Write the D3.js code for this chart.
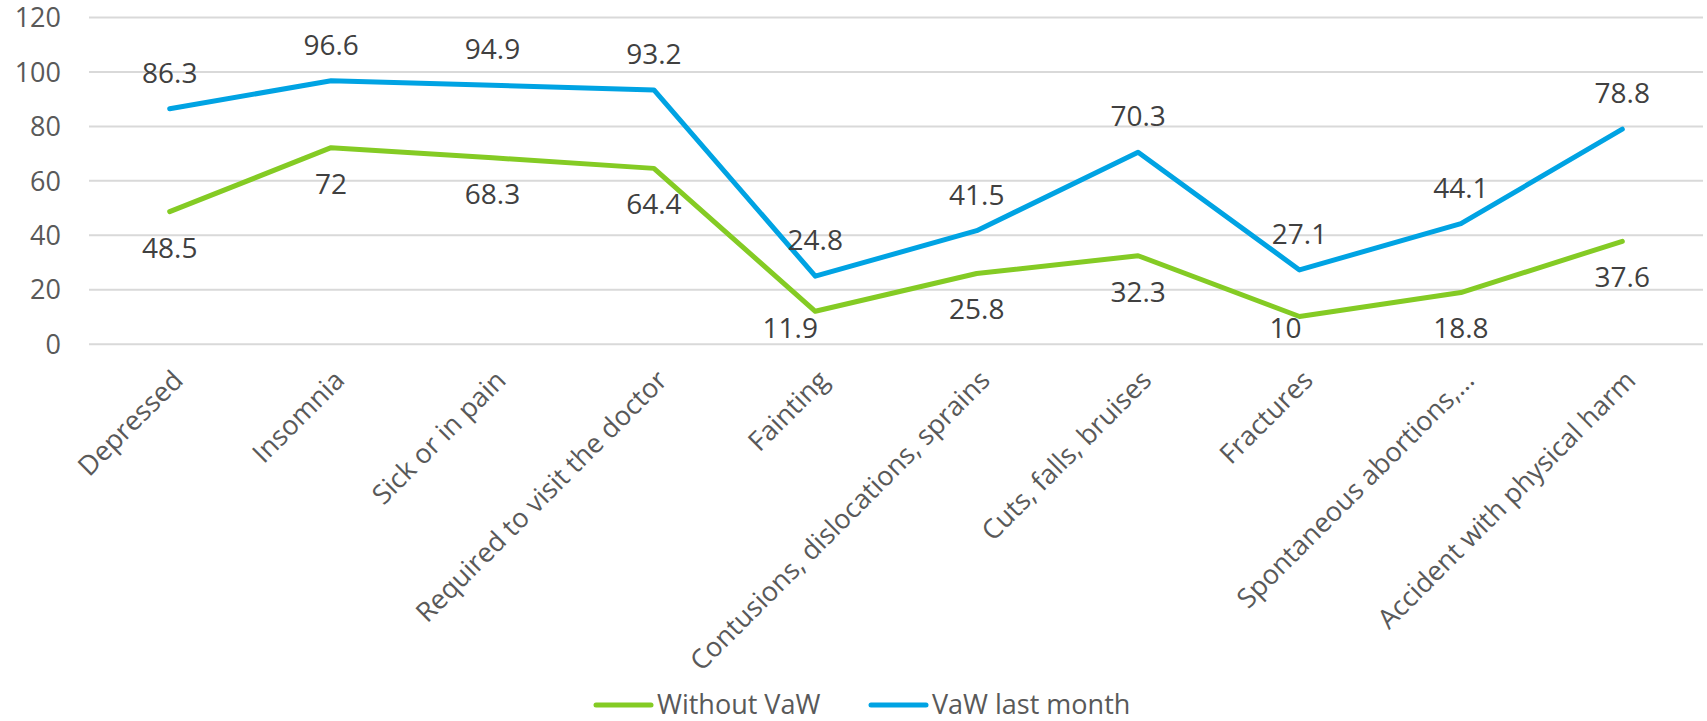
<!DOCTYPE html>
<html>
<head>
<meta charset="utf-8">
<script src="https://cdn.jsdelivr.net/npm/d3@7"></script>
<style>
  body { margin: 0; background: #fff; }
  text { font-family: "Open Sans", sans-serif; }
</style>
</head>
<body>
<svg id="chart" width="1707" height="721"></svg>
<script>
// categories along the x axis
const categories = ["Depressed", "Insomnia", "Sick or in pain", "Required to visit the doctor",
  "Fainting", "Contusions, dislocations, sprains", "Cuts, falls, bruises", "Fractures",
  "Spontaneous abortions,\u2026", "Accident with physical harm"];
// series values
const withoutVaw = [48.5, 72, 68.3, 64.4, 11.9, 25.8, 32.3, 10, 18.8, 37.6];
const vawLastMonth = [86.3, 96.6, 94.9, 93.2, 24.8, 41.5, 70.3, 27.1, 44.1, 78.8];
const yTicks = [0, 20, 40, 60, 80, 100, 120];

// little horizontal nudges of the labels that sit on the axis floor
const belowShift = [0, 0, 0, 0, -25, 0, 0, -14, 0, 0];

const series = [
  { name: "Without VaW", values: withoutVaw, color: "#84CB24", pos: "below" },
  { name: "VaW last month", values: vawLastMonth, color: "#00A3E3", pos: "above" }
];

const svg = d3.select("#chart");
const plotLeft = 89, plotRight = 1703, plotTop = 17, plotBottom = 343.7;

const x = d3.scalePoint().domain(categories).range([plotLeft, plotRight]).padding(0.5);
const y = d3.scaleLinear().domain([0, 120]).range([plotBottom, plotTop]);

// grid lines + y labels
const yAxis = svg.append("g").attr("transform", "translate(" + plotLeft + ",0)")
  .call(d3.axisLeft(y).tickValues(yTicks).tickSize(-(plotRight - plotLeft)).tickPadding(28));
yAxis.select(".domain").remove();
yAxis.selectAll(".tick line").attr("stroke", "#D9D9D9").attr("stroke-width", 2);
yAxis.selectAll(".tick text").attr("fill", "#595959").style("font-size", "27px")
  .attr("dy", "0.36em");

// category labels, rotated
svg.append("g").selectAll("text")
  .data(categories)
  .enter()
  .append("text")
  .text(d => d)
  .attr("text-anchor", "end")
  .attr("fill", "#595959")
  .style("font-size", "27px")
  .attr("transform", d => "translate(" + (x(d) + 15) + ",382) rotate(-45)");

// lines
const line = d3.line().x((v, i) => x(categories[i])).y(v => y(v));
series.forEach(s => {
  svg.append("path")
    .datum(s.values)
    .attr("d", line)
    .attr("fill", "none")
    .attr("stroke", s.color)
    .attr("stroke-width", 5)
    .attr("stroke-linejoin", "round")
    .attr("stroke-linecap", "round");
});

// data labels
series.forEach(s => {
  svg.append("g").selectAll("text")
    .data(s.values)
    .enter()
    .append("text")
    .text(d => d)
    .attr("text-anchor", "middle")
    .attr("fill", "#404040")
    .style("font-size", "28px")
    .attr("x", (d, i) => x(categories[i]) + (s.pos == "below" ? belowShift[i] : 0))
    .attr("y", d => s.pos == "above" ? y(d) - 26 : Math.min(y(d) + 46, 338));
});

// legend
const legend = svg.append("g").attr("transform", "translate(596,705)");
let lx = 0;
series.forEach(s => {
  legend.append("line")
    .attr("x1", lx).attr("x2", lx + 55).attr("y1", 0).attr("y2", 0)
    .attr("stroke", s.color).attr("stroke-width", 5).attr("stroke-linecap", "round");
  legend.append("text")
    .text(s.name)
    .attr("x", lx + 61)
    .attr("y", 9)
    .attr("fill", "#595959")
    .style("font-size", "27px");
  lx = 275;
});
</script>
</body>
</html>
